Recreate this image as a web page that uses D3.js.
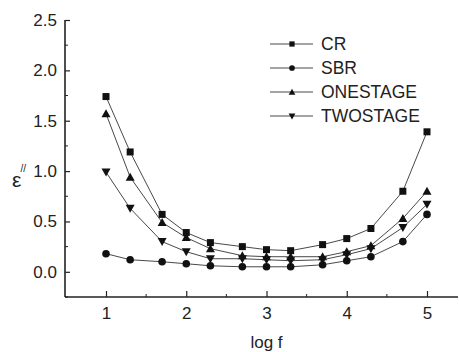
<!DOCTYPE html>
<html>
<head>
<meta charset="utf-8">
<script src="https://cdn.jsdelivr.net/npm/d3@7"></script>
<style>
  body { margin: 0; background: #fff; }
  svg { display: block; font-family: "Liberation Sans", Arial, sans-serif; }
</style>
</head>
<body>
<div class="chart"></div>
<script>
// log f values of each measurement
const logF = [1, 1.301, 1.699, 2, 2.301, 2.699, 3, 3.301, 3.699, 4, 4.301, 4.699, 5];

const crVals = [1.74, 1.19, 0.57, 0.39, 0.29, 0.25, 0.22, 0.21, 0.27, 0.33, 0.43, 0.80, 1.39];
const sbrVals = [0.18, 0.12, 0.10, 0.08, 0.06, 0.05, 0.05, 0.05, 0.07, 0.11, 0.15, 0.30, 0.57];
const oneStageVals = [1.57, 0.94, 0.49, 0.34, 0.23, 0.16, 0.15, 0.15, 0.15, 0.20, 0.26, 0.53, 0.80];
const twoStageVals = [0.99, 0.63, 0.30, 0.20, 0.13, 0.13, 0.12, 0.11, 0.12, 0.17, 0.23, 0.44, 0.67];

const seriesNames = ['CR', 'SBR', 'ONESTAGE', 'TWOSTAGE'];
const seriesSymbols = ['square', 'circle', 'up', 'down'];

const xTicks = [1, 2, 3, 4, 5];
const xMinorTicks = [1.5, 2.5, 3.5, 4.5];
const yTicks = [0, 0.5, 1, 1.5, 2, 2.5];
const yMinorTicks = [-0.25, 0.25, 0.75, 1.25, 1.75, 2.25];

const width = 459, height = 352;
const mLeft = 65, mBottom = 297, mTop = 20, mRight = 458;

const x = d3.scaleLinear().domain([1, 5]).range([106, 427]);
const y = d3.scaleLinear().domain([-0.25, 2.5]).range([mBottom, mTop]);

const svg = d3.select('.chart').append('svg')
  .attr('width', width)
  .attr('height', height);

// axes (ticks point inward)
const yAxis = d3.axisLeft(y).tickValues(yTicks).tickSizeInner(-5).tickSizeOuter(0)
  .tickPadding(8).tickFormat(d3.format('.1f'));
const gy = svg.append('g').attr('transform', `translate(${mLeft},0)`).call(yAxis);
gy.select('.domain').remove();
gy.selectAll('text').attr('font-size', 17).attr('fill', '#222');
gy.selectAll('line').attr('stroke', '#222').attr('stroke-width', 1.2);

svg.append('g').selectAll('line').data(yMinorTicks).enter().append('line')
  .attr('x1', mLeft).attr('x2', mLeft + 3)
  .attr('y1', d => y(d)).attr('y2', d => y(d))
  .attr('stroke', '#222').attr('stroke-width', 1);

const xAxis = d3.axisBottom(x).tickValues(xTicks).tickSizeInner(-6).tickSizeOuter(0)
  .tickPadding(10).tickFormat(d3.format('d'));
const gx = svg.append('g').attr('transform', `translate(0,${mBottom})`).call(xAxis);
gx.select('.domain').remove();
gx.selectAll('text').attr('font-size', 17).attr('fill', '#222');
gx.selectAll('line').attr('stroke', '#222').attr('stroke-width', 1.2);

svg.append('g').selectAll('line').data(xMinorTicks).enter().append('line')
  .attr('x1', d => x(d)).attr('x2', d => x(d))
  .attr('y1', mBottom).attr('y2', mBottom - 3)
  .attr('stroke', '#222').attr('stroke-width', 1);

svg.append('line').attr('x1', mLeft).attr('x2', mLeft).attr('y1', mTop).attr('y2', mBottom)
  .attr('stroke', '#222').attr('stroke-width', 1.6);
svg.append('line').attr('x1', mLeft).attr('x2', mRight).attr('y1', mBottom).attr('y2', mBottom)
  .attr('stroke', '#222').attr('stroke-width', 1.6);

// axis titles
svg.append('text').attr('x', x(3)).attr('y', 348).attr('text-anchor', 'middle')
  .attr('font-size', 17).attr('fill', '#222').text('log f');

const yTitle = svg.append('text').attr('x', 12).attr('y', 187).attr('font-size', 21).attr('fill', '#222');
yTitle.append('tspan').text('ε');
yTitle.append('tspan').attr('dx', -1).attr('dy', -15).attr('font-size', 10).text('//');

// markers
function drawMarker(g, type, cx, cy, k = 1) {
  if (type === 'square') {
    g.append('rect').attr('x', cx - 3.5 * k).attr('y', cy - 3.5 * k)
      .attr('width', 7 * k).attr('height', 7 * k).attr('fill', '#111');
  } else if (type === 'circle') {
    g.append('circle').attr('cx', cx).attr('cy', cy).attr('r', 3.8 * k).attr('fill', '#111');
  } else if (type === 'up') {
    g.append('path').attr('d', `M${cx},${cy - 4.5 * k}L${cx + 4.5 * k},${cy + 3.5 * k}L${cx - 4.5 * k},${cy + 3.5 * k}Z`).attr('fill', '#111');
  } else {
    g.append('path').attr('d', `M${cx},${cy + 4.5 * k}L${cx + 4.5 * k},${cy - 3.5 * k}L${cx - 4.5 * k},${cy - 3.5 * k}Z`).attr('fill', '#111');
  }
}

const allSeries = [crVals, sbrVals, oneStageVals, twoStageVals];
const line = d3.line().x((d, i) => x(logF[i])).y(d => y(d));

allSeries.forEach((vals, s) => {
  const g = svg.append('g');
  g.append('path').datum(vals).attr('d', line)
    .attr('fill', 'none').attr('stroke', '#333').attr('stroke-width', 0.9);
  vals.forEach((v, i) => drawMarker(g, seriesSymbols[s], x(logF[i]), y(v)));
});

// legend
const legend = svg.append('g');
seriesNames.forEach((name, i) => {
  const ly = 44 + i * 24;
  legend.append('line').attr('x1', 270).attr('x2', 313).attr('y1', ly).attr('y2', ly)
    .attr('stroke', '#333').attr('stroke-width', 0.9);
  drawMarker(legend, seriesSymbols[i], 292, ly, 0.75);
  legend.append('text').attr('x', 321).attr('y', ly + 6).attr('font-size', 17.5)
    .attr('fill', '#222').text(name);
});
</script>
</body>
</html>
